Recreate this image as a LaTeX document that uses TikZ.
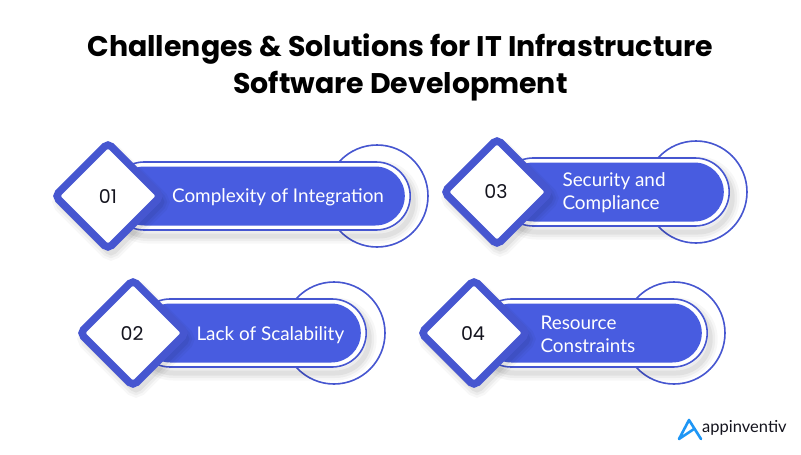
\documentclass[tikz,border=0pt]{standalone}
\usepackage{fontspec}
\usetikzlibrary{shapes.geometric,shapes.misc}
\setmainfont{Lato}
\newfontfamily\titlefont{Poppins}
\definecolor{bandcol}{RGB}{72,92,224}
\definecolor{edgecol}{RGB}{70,86,208}
\definecolor{logocol}{RGB}{30,150,245}
\definecolor{inkcol}{RGB}{20,20,30}
\tikzset{every picture/.style={x=1pt,y=-1pt}}
\tikzset{softshadow/.style={preaction={draw=black,opacity=.03,line width=15pt,transform canvas={xshift=3pt,yshift=-6pt}},preaction={draw=black,opacity=.04,line width=10pt,transform canvas={xshift=3pt,yshift=-6pt}},preaction={draw=black,opacity=.05,line width=5pt,transform canvas={xshift=3pt,yshift=-6pt}}}}
\tikzset{ring/.style={circle,draw=edgecol,line width=1.6pt,inner sep=0,minimum size=102}}
\tikzset{band/.style={rounded rectangle,anchor=east,draw=edgecol,fill=white,line width=1.6pt,inner sep=0,minimum height=68,softshadow}}
\tikzset{core/.style={rounded rectangle,anchor=east,fill=bandcol,inner sep=0,minimum height=59}}
\tikzset{tag/.style={diamond,aspect=1,draw=edgecol,fill=white,line width=7.5pt,rounded corners=5pt,inner sep=0,minimum size=109,softshadow}}
\tikzset{num/.style={font=\titlefont\fontsize{19}{19}\selectfont,text=inkcol}}
\tikzset{annot/.style={font=\fontsize{18.9}{23}\selectfont,text=white,align=left}}
\tikzset{heading/.style={font=\titlefont\bfseries\fontsize{28.4}{37}\selectfont,text=black,align=center}}
\begin{document}
\begin{tikzpicture}
\path [fill=white,use as bounding box] (0,0) rectangle (801,455);
\node [heading] (title) at (400.5,67) {Challenges \& Solutions for IT Infrastructure\\Software Development};
% item 01
\node [ring] (r1) at (377,196) {};
\node [band,minimum width=300] (b1) at (411,196) {};
\node [core,minimum width=290] (c1) at (405,196) {};
\node [tag] (d1) at (108,196) {};
\node [num] (n1) at (108,197) {01};
\node [annot] (t1) at (278,197) {Complexity of Integration};
% item 03
\node [ring] (r3) at (696,192) {};
\node [band,minimum width=230] (b3) at (730,192) {};
\node [core,minimum width=220] (c3) at (724,192) {};
\node [tag] (d3) at (497,192) {};
\node [num] (n3) at (496,192) {03};
\node [annot,anchor=west] (t3) at (559,193) {Security and\\Compliance};
% item 02
\node [ring] (r2) at (334,333) {};
\node [band,minimum width=230] (b2) at (367,333) {};
\node [core,minimum width=220] (c2) at (361,333) {};
\node [tag] (d2) at (133,333) {};
\node [num] (n2) at (132,334) {02};
\node [annot,anchor=west] (t2) at (193,335) {Lack of Scalability};
% item 04
\node [ring] (r4) at (674,333) {};
\node [band,minimum width=230] (b4) at (708,333) {};
\node [core,minimum width=220] (c4) at (702,333) {};
\node [tag] (d4) at (474,333) {};
\node [num] (n4) at (473,334) {04};
\node [annot,anchor=west] (t4) at (537,334) {Resource\\Constraints};
% logo
\draw [logocol,line width=2.6pt,line join=round,line cap=round] (701,439) -- (689,420) -- (679,439) -- (694,429);
\node [font=\fontsize{16.5}{16.5}\selectfont,text=inkcol,anchor=west,inner sep=0] (logo) at (702,428) {appinventiv};
\end{tikzpicture}
\end{document}
